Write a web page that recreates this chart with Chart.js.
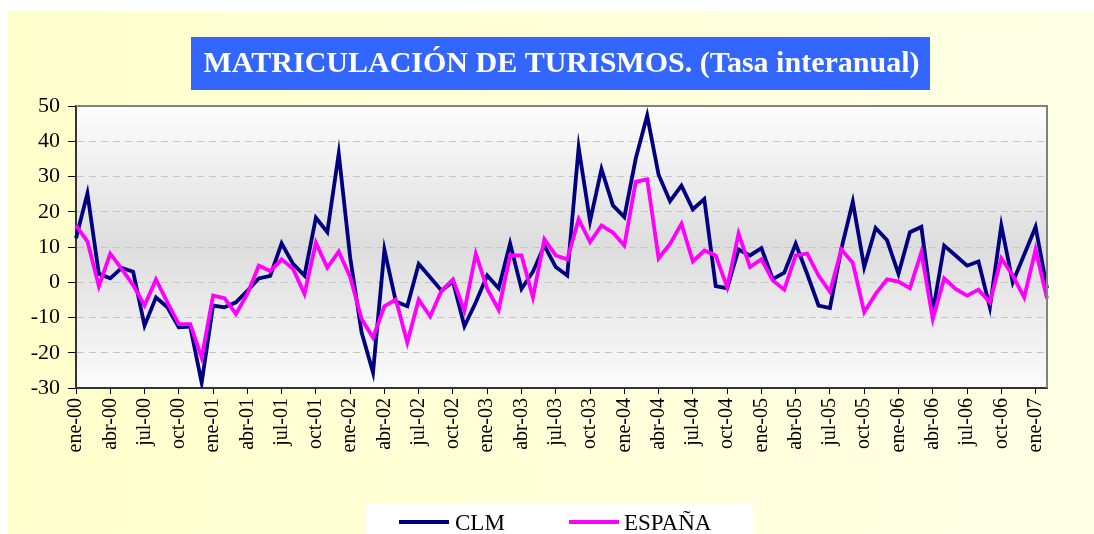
<!DOCTYPE html>
<html>
<head>
<meta charset="utf-8">
<script src="https://cdn.jsdelivr.net/npm/chart.js@4/dist/chart.umd.min.js"></script>
<style>
  html, body { margin: 0; padding: 0; background: #ffffff; }
  #wrap { width: 1094px; height: 534px; position: relative; }
</style>
</head>
<body>
<div id="wrap"><canvas id="c" width="1094" height="534"></canvas></div>
<script>
// ---- data ----
const months = [
  'ene-00','feb-00','mar-00','abr-00','may-00','jun-00','jul-00','ago-00','sep-00','oct-00','nov-00','dic-00',
  'ene-01','feb-01','mar-01','abr-01','may-01','jun-01','jul-01','ago-01','sep-01','oct-01','nov-01','dic-01',
  'ene-02','feb-02','mar-02','abr-02','may-02','jun-02','jul-02','ago-02','sep-02','oct-02','nov-02','dic-02',
  'ene-03','feb-03','mar-03','abr-03','may-03','jun-03','jul-03','ago-03','sep-03','oct-03','nov-03','dic-03',
  'ene-04','feb-04','mar-04','abr-04','may-04','jun-04','jul-04','ago-04','sep-04','oct-04','nov-04','dic-04',
  'ene-05','feb-05','mar-05','abr-05','may-05','jun-05','jul-05','ago-05','sep-05','oct-05','nov-05','dic-05',
  'ene-06','feb-06','mar-06','abr-06','may-06','jun-06','jul-06','ago-06','sep-06','oct-06','nov-06','dic-06',
  'ene-07','feb-07'
];
const clm = [
  12.5, 25.2, 2.4, 1.1, 4.1, 3.0, -12.3, -4.3, -7.1, -12.8, -12.6, -28.5,
  -6.6, -7.1, -5.7, -2.4, 1.1, 1.8, 11.0, 5.2, 1.9, 18.3, 14.2, 36.5,
  7.0, -14.2, -25.6, 9.2, -5.5, -6.8, 5.2, 1.4, -2.4, 0.2, -12.5, -5.7,
  1.9, -1.7, 11.0, -1.9, 3.0, 10.4, 4.3, 1.9, 38.2, 17.3, 32.1, 21.8,
  18.5, 35.1, 47.3, 30.5, 23.0, 27.4, 20.7, 23.6, -1.1, -1.7, 9.3, 7.6,
  9.7, 0.9, 2.7, 10.9, 2.4, -6.6, -7.3, 9.5, 22.8, 4.3, 15.4, 11.9,
  2.4, 14.2, 15.7, -8.5, 10.4, 7.6, 4.7, 5.9, -7.1, 16.1, 0.0, 7.8,
  15.7, -1.7
];
const espana = [
  16.1, 11.6, -1.1, 8.1, 3.8, -0.8, -6.6, 0.8, -5.7, -11.9, -11.9, -21.4,
  -3.8, -4.5, -9.0, -3.3, 4.7, 3.2, 6.5, 3.8, -3.3, 11.2, 4.1, 8.7,
  1.5, -10.4, -15.7, -6.8, -4.9, -17.1, -4.9, -9.7, -2.4, 0.8, -8.1, 8.1,
  -1.9, -7.8, 7.6, 7.6, -4.3, 12.2, 7.6, 6.5, 17.9, 11.4, 16.1, 14.1,
  10.4, 28.5, 29.2, 6.8, 10.9, 16.6, 5.9, 9.0, 7.6, -1.4, 13.8, 4.3,
  6.5, 0.5, -2.1, 7.6, 8.1, 1.9, -2.7, 9.3, 5.5, -8.5, -3.3, 0.8,
  0.2, -1.7, 8.5, -10.4, 1.1, -1.9, -3.8, -2.1, -5.7, 6.8, 1.9, -4.3,
  9.3, -4.6
];
const seriesNames = ['CLM', 'ESPAÑA'];
const titleText = 'MATRICULACIÓN DE TURISMOS. (Tasa interanual)';
const yMin = -30, yMax = 50, yStep = 10;
const labelEvery = 3;

// ---- style ----
const SERIF = "'Liberation Serif', 'Times New Roman', serif";
const colors = ['#000080', '#FF00FF'];

const decor = {
  id: 'decor',
  beforeDraw(chart) {
    const ctx = chart.ctx;
    const W = chart.width, H = chart.height;
    ctx.save();
    ctx.fillStyle = '#ffffff';
    ctx.fillRect(0, 0, W, H);
    const g = ctx.createLinearGradient(8, 0, W, 0);
    g.addColorStop(0, '#FFFFCC');
    g.addColorStop(1, '#FFFFE6');
    ctx.fillStyle = g;
    ctx.fillRect(8, 11, W - 8, H - 11);
    // title box
    ctx.fillStyle = '#3366FF';
    ctx.fillRect(191, 37, 739, 53);
    // plot background
    const a = chart.chartArea;
    const pg = ctx.createLinearGradient(0, a.top, 0, a.bottom);
    pg.addColorStop(0, '#FDFDFD');
    pg.addColorStop(0.5, '#DDDDDD');
    pg.addColorStop(1, '#FBFBFB');
    ctx.fillStyle = pg;
    ctx.fillRect(a.left, a.top, a.right - a.left, a.bottom - a.top);
    // legend box
    ctx.fillStyle = '#ffffff';
    ctx.fillRect(366, 503, 387, 40);
    ctx.restore();
  },
  afterDraw(chart) {
    const ctx = chart.ctx;
    const a = chart.chartArea;
    ctx.save();
    ctx.strokeStyle = '#808080';
    ctx.lineWidth = 2;
    ctx.beginPath();
    ctx.moveTo(a.left, a.top);
    ctx.lineTo(a.right, a.top);
    ctx.lineTo(a.right, a.bottom);
    ctx.stroke();
    // legend
    const items = [{x: 399, tx: 455}, {x: 569, tx: 624}];
    ctx.font = '23px ' + SERIF;
    ctx.textBaseline = 'alphabetic';
    ctx.textAlign = 'left';
    chart.data.datasets.forEach((ds, i) => {
      const it = items[i];
      ctx.strokeStyle = ds.borderColor;
      ctx.lineWidth = 3.8;
      ctx.beginPath();
      ctx.moveTo(it.x, 522);
      ctx.lineTo(it.x + 50, 522);
      ctx.stroke();
      ctx.fillStyle = '#000000';
      ctx.fillText(ds.label, it.tx, 530);
    });
    ctx.restore();
  }
};

new Chart(document.getElementById('c'), {
  type: 'line',
  data: {
    labels: months,
    datasets: [
      { label: seriesNames[0], data: clm, borderColor: colors[0], backgroundColor: colors[0],
        borderWidth: 3.8, pointRadius: 0, tension: 0, fill: false, order: 1 },
      { label: seriesNames[1], data: espana, borderColor: colors[1], backgroundColor: colors[1],
        borderWidth: 3.8, pointRadius: 0, tension: 0, fill: false, order: 0 }
    ]
  },
  options: {
    responsive: false,
    animation: false,
    events: [],
    layout: { padding: { top: 10, left: 0, right: 47, bottom: 0 } },
    plugins: {
      legend: { display: false },
      tooltip: { enabled: false },
      title: {
        display: true,
        text: titleText,
        fullSize: false,
        color: '#ffffff',
        font: { family: SERIF, size: 30, weight: 'bold', lineHeight: '36px' },
        padding: { top: 36, bottom: 24 }
      }
    },
    scales: {
      x: {
        type: 'category',
        offset: false,
        afterFit(scale) { scale.height = 146; },
        grid: {
          display: true,
          drawOnChartArea: false,
          drawTicks: true,
          tickLength: 6,
          tickWidth: 1,
          tickColor: (c) => (c.index % labelEvery === 0 ? '#000000' : 'rgba(0,0,0,0)')
        },
        border: { display: true, color: '#333333', width: 2 },
        ticks: {
          autoSkip: false,
          maxRotation: 90,
          minRotation: 90,
          padding: 4,
          color: '#000000',
          font: { family: SERIF, size: 20 },
          callback: function (value, index) {
            return index % labelEvery === 0 ? this.getLabelForValue(value) : '';
          }
        }
      },
      y: {
        min: yMin,
        max: yMax,
        afterFit(scale) { scale.width = 76; },
        grid: {
          color: '#C4C4C4',
          lineWidth: 1,
          drawTicks: true,
          tickLength: 8,
          tickColor: '#000000',
          tickWidth: 1
        },
        border: { display: true, color: '#333333', width: 2, dash: [7, 5] },
        ticks: {
          stepSize: yStep,
          padding: 8,
          color: '#000000',
          font: { family: SERIF, size: 22 }
        }
      }
    }
  },
  plugins: [decor]
});
</script>
</body>
</html>
